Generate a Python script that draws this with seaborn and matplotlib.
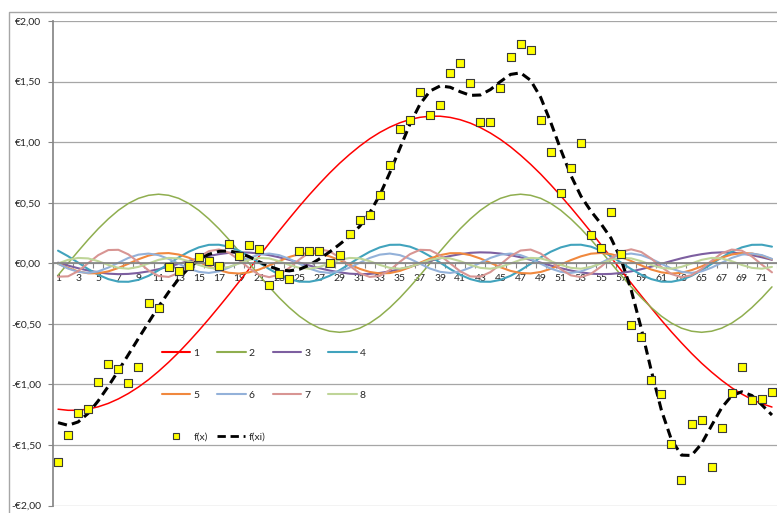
import numpy as np
import pandas as pd
import matplotlib
matplotlib.use("Agg")
import matplotlib.pyplot as plt
from matplotlib.lines import Line2D
import seaborn as sns

# categorie op de x-as (grafiek is rechts afgesneden na 71)
categories = list(range(1, 73))
x_tick_pos = categories[::2]
x_tick_labels = [str(c) for c in x_tick_pos]

y_ticks = [-2.0, -1.5, -1.0, -0.5, 0.0, 0.5, 1.0, 1.5, 2.0]
y_labels = ['-€2,00', '-€1,50', '-€1,00', '-€0,50', '€0,00',
            '€0,50', '€1,00', '€1,50', '€2,00']

comp_1 = [-1.205, -1.214, -1.214, -1.204, -1.185, -1.157, -1.120, -1.075, -1.022, -0.961,
          -0.892, -0.817, -0.736, -0.648, -0.556, -0.460, -0.360, -0.258, -0.153, -0.048,
          0.058, 0.164, 0.268, 0.370, 0.470, 0.566, 0.657, 0.744, 0.825, 0.899,
          0.967, 1.028, 1.080, 1.124, 1.160, 1.187, 1.205, 1.214, 1.214, 1.204,
          1.185, 1.157, 1.120, 1.075, 1.022, 0.961, 0.892, 0.817, 0.736, 0.648,
          0.556, 0.460, 0.360, 0.258, 0.153, 0.048, -0.058, -0.164, -0.268, -0.370,
          -0.470, -0.566, -0.657, -0.744, -0.825, -0.899, -0.967, -1.028, -1.080, -1.124,
          -1.160, -1.187]
comp_2 = [-0.099, 0.000, 0.099, 0.195, 0.285, 0.366, 0.437, 0.494, 0.536, 0.561,
          0.570, 0.561, 0.536, 0.494, 0.437, 0.366, 0.285, 0.195, 0.099, 0.000,
          -0.099, -0.195, -0.285, -0.366, -0.437, -0.494, -0.536, -0.561, -0.570, -0.561,
          -0.536, -0.494, -0.437, -0.366, -0.285, -0.195, -0.099, 0.000, 0.099, 0.195,
          0.285, 0.366, 0.437, 0.494, 0.536, 0.561, 0.570, 0.561, 0.536, 0.494,
          0.437, 0.366, 0.285, 0.195, 0.099, 0.000, -0.099, -0.195, -0.285, -0.366,
          -0.437, -0.494, -0.536, -0.561, -0.570, -0.561, -0.536, -0.494, -0.437, -0.366,
          -0.285, -0.195]
comp_3 = [0.005, -0.019, -0.041, -0.060, -0.075, -0.086, -0.090, -0.088, -0.080, -0.067, -0.049, -0.028,
          -0.005, 0.019, 0.041, 0.060, 0.075, 0.086, 0.090, 0.088, 0.080, 0.067, 0.049, 0.028,
          0.005, -0.019, -0.041, -0.060, -0.075, -0.086, -0.090, -0.088, -0.080, -0.067, -0.049, -0.028,
          -0.005, 0.019, 0.041, 0.060, 0.075, 0.086, 0.090, 0.088, 0.080, 0.067, 0.049, 0.028,
          0.005, -0.019, -0.041, -0.060, -0.075, -0.086, -0.090, -0.088, -0.080, -0.067, -0.049, -0.028,
          -0.005, 0.019, 0.041, 0.060, 0.075, 0.086, 0.090, 0.088, 0.080, 0.067, 0.049, 0.028]
comp_4 = [0.104, 0.058, 0.005, -0.048, -0.095, -0.131, -0.152, -0.153, -0.137,
          -0.104, -0.058, -0.005, 0.048, 0.095, 0.131, 0.152, 0.153, 0.137,
          0.104, 0.058, 0.005, -0.048, -0.095, -0.131, -0.152, -0.153, -0.137,
          -0.104, -0.058, -0.005, 0.048, 0.095, 0.131, 0.152, 0.153, 0.137,
          0.104, 0.058, 0.005, -0.048, -0.095, -0.131, -0.152, -0.153, -0.137,
          -0.104, -0.058, -0.005, 0.048, 0.095, 0.131, 0.152, 0.153, 0.137,
          0.104, 0.058, 0.005, -0.048, -0.095, -0.131, -0.152, -0.153, -0.137,
          -0.104, -0.058, -0.005, 0.048, 0.095, 0.131, 0.152, 0.153, 0.137]
comp_5 = [-0.004, -0.039, -0.067, -0.083, -0.083, -0.067, -0.039, -0.004, 0.033, 0.063,
          0.081, 0.084, 0.072, 0.046, 0.011, -0.026, -0.057, -0.079, -0.085, -0.075,
          -0.052, -0.018, 0.018, 0.052, 0.075, 0.085, 0.079, 0.057, 0.026, -0.011,
          -0.046, -0.072, -0.084, -0.081, -0.063, -0.033, 0.004, 0.039, 0.067, 0.083,
          0.083, 0.067, 0.039, 0.004, -0.033, -0.063, -0.081, -0.084, -0.072, -0.046,
          -0.011, 0.026, 0.057, 0.079, 0.085, 0.075, 0.052, 0.018, -0.018, -0.052,
          -0.075, -0.085, -0.079, -0.057, -0.026, 0.011, 0.046, 0.072, 0.084, 0.081,
          0.063, 0.033]
comp_6 = [-0.004, -0.044, -0.071, -0.080, -0.067, -0.036, 0.004, 0.044, 0.071, 0.080, 0.067, 0.036,
          -0.004, -0.044, -0.071, -0.080, -0.067, -0.036, 0.004, 0.044, 0.071, 0.080, 0.067, 0.036,
          -0.004, -0.044, -0.071, -0.080, -0.067, -0.036, 0.004, 0.044, 0.071, 0.080, 0.067, 0.036,
          -0.004, -0.044, -0.071, -0.080, -0.067, -0.036, 0.004, 0.044, 0.071, 0.080, 0.067, 0.036,
          -0.004, -0.044, -0.071, -0.080, -0.067, -0.036, 0.004, 0.044, 0.071, 0.080, 0.067, 0.036,
          -0.004, -0.044, -0.071, -0.080, -0.067, -0.036, 0.004, 0.044, 0.071, 0.080, 0.067, 0.036]
comp_7 = [-0.111, -0.108, -0.065, 0.001, 0.067, 0.109, 0.111, 0.073, 0.009, -0.059,
          -0.105, -0.113, -0.080, -0.018, 0.050, 0.100, 0.114, 0.087, 0.028, -0.041,
          -0.095, -0.115, -0.093, -0.038, 0.031, 0.089, 0.115, 0.099, 0.047, -0.021,
          -0.082, -0.113, -0.104, -0.056, 0.012, 0.075, 0.111, 0.108, 0.065, -0.001,
          -0.067, -0.109, -0.111, -0.073, -0.009, 0.059, 0.105, 0.113, 0.080, 0.018,
          -0.050, -0.100, -0.114, -0.087, -0.028, 0.041, 0.095, 0.115, 0.093, 0.038,
          -0.031, -0.089, -0.115, -0.099, -0.047, 0.021, 0.082, 0.113, 0.104, 0.056,
          -0.012, -0.075]
comp_8 = [-0.002, 0.028, 0.044, 0.040, 0.017, -0.014, -0.038, -0.045, -0.030,
          -0.002, 0.028, 0.044, 0.040, 0.017, -0.014, -0.038, -0.045, -0.030,
          -0.002, 0.028, 0.044, 0.040, 0.017, -0.014, -0.038, -0.045, -0.030,
          -0.002, 0.028, 0.044, 0.040, 0.017, -0.014, -0.038, -0.045, -0.030,
          -0.002, 0.028, 0.044, 0.040, 0.017, -0.014, -0.038, -0.045, -0.030,
          -0.002, 0.028, 0.044, 0.040, 0.017, -0.014, -0.038, -0.045, -0.030,
          -0.002, 0.028, 0.044, 0.040, 0.017, -0.014, -0.038, -0.045, -0.030,
          -0.002, 0.028, 0.044, 0.040, 0.017, -0.014, -0.038, -0.045, -0.030]

# meetpunten f(x) en benadering f(xi)
f_x = [-1.64, -1.42, -1.24, -1.20, -0.98, -0.83, -0.87, -0.99, -0.86, -0.33,
       -0.37, -0.03, -0.06, -0.02, 0.05, 0.02, -0.02, 0.16, 0.06, 0.15,
       0.12, -0.18, -0.09, -0.13, 0.10, 0.10, 0.10, 0.00, 0.07, 0.24,
       0.36, 0.40, 0.56, 0.81, 1.11, 1.18, 1.41, 1.22, 1.31, 1.57,
       1.65, 1.49, 1.17, 1.17, 1.45, 1.70, 1.81, 1.76, 1.18, 0.92,
       0.58, 0.79, 0.99, 0.23, 0.13, 0.42, 0.08, -0.51, -0.61, -0.96,
       -1.08, -1.49, -1.79, -1.33, -1.29, -1.68, -1.36, -1.07, -0.86, -1.13,
       -1.12, -1.06]
f_xi = [-1.316, -1.338, -1.310, -1.239, -1.136, -1.016, -0.887, -0.754, -0.620, -0.489,
        -0.358, -0.238, -0.129, -0.039, 0.029, 0.074, 0.098, 0.102, 0.085, 0.054,
        0.012, -0.025, -0.054, -0.063, -0.050, -0.015, 0.036, 0.093, 0.156, 0.223,
        0.305, 0.417, 0.563, 0.748, 0.950, 1.149, 1.314, 1.422, 1.464, 1.453,
        1.416, 1.386, 1.389, 1.434, 1.500, 1.559, 1.572, 1.510, 1.369, 1.163,
        0.937, 0.726, 0.554, 0.430, 0.325, 0.206, 0.030, -0.221, -0.538, -0.887,
        -1.212, -1.457, -1.584, -1.587, -1.490, -1.339, -1.193, -1.093, -1.061, -1.092,
        -1.170, -1.253]

series_names = ['1', '2', '3', '4', '5', '6', '7', '8']
series_colors = ['#FF0000', '#8FAE4F', '#7D5FA0', '#41A3BD',
                 '#F0883E', '#93B1D9', '#D89593', '#BFD598']
series_widths = [1.1, 1.1, 1.5, 1.5, 1.5, 1.5, 1.5, 1.5]

sns.set_theme(style="white")
plt.rcParams['font.family'] = ['Lato', 'DejaVu Sans']

components = [comp_1, comp_2, comp_3, comp_4, comp_5, comp_6, comp_7, comp_8]
df = pd.DataFrame({
    'cat': categories * len(series_names),
    'value': sum(components, []),
    'series': np.repeat(series_names, len(categories)),
})
df_f = pd.DataFrame({'cat': categories, 'fx': f_x, 'fxi': f_xi})

W, H = 777, 513
fig = plt.figure(figsize=(W / 100, H / 100), dpi=100)
fig.patch.set_facecolor('white')
ax = fig.add_axes([53 / W, 1 - 505.5 / H, (W - 53) / W, 484.5 / H])
ax.set_facecolor('white')

sns.lineplot(data=df, x='cat', y='value', hue='series', hue_order=series_names,
             palette=dict(zip(series_names, series_colors)), legend=False,
             errorbar=None, ax=ax)
for line, lw in zip(ax.lines, series_widths):
    line.set_linewidth(lw)

dash = (0, (3.0, 1.7))
sns.lineplot(data=df_f, x='cat', y='fxi', color='black', linewidth=2.2,
             linestyle=dash, errorbar=None, ax=ax)
sns.scatterplot(data=df_f, x='cat', y='fx', marker='s', s=26, color='#FFFF00',
                edgecolor='#3A3A3A', linewidth=0.8, zorder=5, ax=ax)

# assen in Excel-stijl
ax.set_xlim(0.5, 0.5 + (W - 53) / 10.143)
ax.set_ylim(-2, 2)
ax.set_xticks(x_tick_pos)
ax.set_xticklabels(x_tick_labels)
ax.set_xticks(np.arange(0.5, 72.6, 1), minor=True)
ax.tick_params(axis='x', which='major', bottom=True, length=0, pad=8,
               labelsize=7.5, labelcolor='#262626')
ax.tick_params(axis='x', which='minor', bottom=True, length=3.5, width=0.8,
               color='#868686', direction='out')
ax.set_yticks(y_ticks)
ax.set_yticklabels(y_labels)
ax.tick_params(axis='y', left=True, length=3.5, width=0.8, color='#868686',
               pad=5, labelsize=7.5, labelcolor='#262626')
ax.spines['bottom'].set_position(('data', 0))
ax.spines['bottom'].set_color('#868686')
ax.spines['left'].set_color('#868686')
ax.spines['top'].set_visible(False)
ax.spines['right'].set_visible(False)
ax.yaxis.grid(True, color='#A6A6A6', linewidth=0.9)
ax.set_axisbelow(True)
ax.set_xlabel('')
ax.set_ylabel('')

# legenda in drie rijen
def legend_row(handles, labels, y_px, spacing):
    fig.legend(handles, labels, loc='center left',
               bbox_to_anchor=(162 / W, 1 - y_px / H), bbox_transform=fig.transFigure,
               ncol=len(handles), frameon=False, fontsize=7.5, handlelength=2.7,
               handletextpad=0.3, columnspacing=spacing, borderpad=0,
               borderaxespad=0, numpoints=1, labelcolor='#262626')

line_handles = [Line2D([], [], color=c, lw=1.5) for c in series_colors]
legend_row(line_handles[:4], series_names[:4], 353, 1.75)
legend_row(line_handles[4:], series_names[4:], 395, 1.75)
fx_handle = Line2D([], [], ls='none', marker='s', ms=5, mfc='#FFFF00',
                   mec='#3A3A3A', mew=0.8)
fxi_handle = Line2D([], [], color='black', lw=2.0, linestyle=dash)
legend_row([fx_handle, fxi_handle], ['f(x)', 'f(xi)'], 437, 0.9)

# rand van het grafiekgebied
fig.add_artist(Line2D([8.5 / W, 8.5 / W, 1.0], [0, 1 - 11.5 / H, 1 - 11.5 / H],
                      transform=fig.transFigure, color='#A6A6A6', lw=1.0))

fig.savefig('out.png', dpi=100)
